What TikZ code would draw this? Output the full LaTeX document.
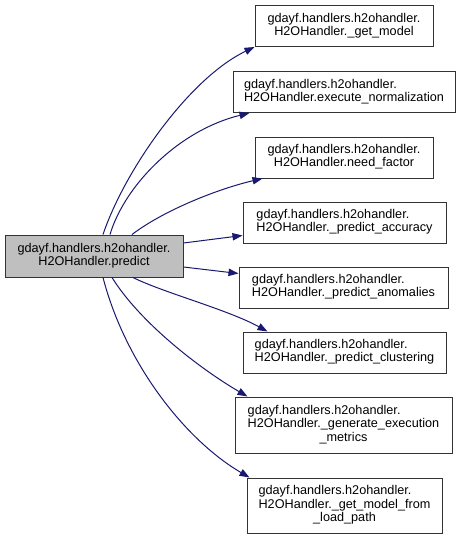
\documentclass[tikz,border=0pt]{standalone}
\usepackage{fontspec}
\setmainfont{Liberation Sans}
\usetikzlibrary{arrows.meta}

\definecolor{edgeblue}{HTML}{191970}
\definecolor{srcgrey}{HTML}{BFBFBF}

% label lines: upper lines flush left, last line centred
\newcommand{\twoline}[2]{\begin{tabular}{@{}l@{}}#1\\\multicolumn{1}{@{}c@{}}{#2}\end{tabular}}
\newcommand{\threeline}[3]{\begin{tabular}{@{}l@{}}#1\\#2\\\multicolumn{1}{@{}c@{}}{#3}\end{tabular}}

\begin{document}
\begin{tikzpicture}[
  x=0.75pt, y=-0.75pt,
  every node/.style={font={\fontsize{9.5}{10}\selectfont}},
  fn/.style={rectangle, draw=black!80, line width=0.75pt,
             fill=white, inner sep=0pt, minimum height=30.75pt},
  root/.style={fn, fill=srcgrey, minimum height=31.5pt},
  call/.style={-{Triangle[length=7.5pt,width=5.5pt]}, draw=edgeblue,
               line width=0.75pt},
]

\useasboundingbox (0,0) rectangle (463,539);

%% ── Column positions ──────────────────────────────────
\def\sx{94}    % caller column x
\def\tx{344}   % callee column x

%% ── Caller ────────────────────────────────────────────
\node[root, minimum width=133.5pt] (predict) at (\sx, 256)
  {\twoline{gdayf.handlers.h2ohandler.}{H2OHandler.predict}};

%% ── Callees (top → bottom) ────────────────────────────
\node[fn, minimum width=133.5pt] (getmodel) at (\tx, 26)
  {\twoline{gdayf.handlers.h2ohandler.}{H2OHandler.\_get\_model}};
\node[fn, minimum width=166.5pt] (normalize) at (\tx, 92)
  {\twoline{gdayf.handlers.h2ohandler.}{H2OHandler.execute\_normalization}};
\node[fn, minimum width=133.5pt] (needfactor) at (\tx, 157.5)
  {\twoline{gdayf.handlers.h2ohandler.}{H2OHandler.need\_factor}};
\node[fn, minimum width=152.25pt] (accuracy) at (\tx+0.5, 222.5)
  {\twoline{gdayf.handlers.h2ohandler.}{H2OHandler.\_predict\_accuracy}};
\node[fn, minimum width=156.75pt] (anomalies) at (\tx-0.5, 287.5)
  {\twoline{gdayf.handlers.h2ohandler.}{H2OHandler.\_predict\_anomalies}};
\node[fn, minimum width=152.25pt] (clustering) at (\tx+0.5, 352.5)
  {\twoline{gdayf.handlers.h2ohandler.}{H2OHandler.\_predict\_clustering}};
\node[fn, minimum width=162.75pt, minimum height=42pt] (metrics) at (\tx-0.5, 425)
  {\threeline{gdayf.handlers.h2ohandler.}{H2OHandler.\_generate\_execution}{\_metrics}};
\node[fn, minimum width=146.25pt, minimum height=41.25pt] (loadpath) at (\tx+0.5, 505.5)
  {\threeline{gdayf.handlers.h2ohandler.}{H2OHandler.\_get\_model\_from}{\_load\_path}};

%% ── Calls ─────────────────────────────────────────────
\draw[call] ([shift={(9,0)}]predict.north)
  .. controls +(22,-65) and +(-65,31) .. (getmodel.south west);
\draw[call] ([shift={(16,0)}]predict.north)
  .. controls +(15,-50) and +(-70,17) .. ([shift={(17,0)}]normalize.south west);
\draw[call] ([shift={(38,0)}]predict.north)
  .. controls +(33,-25) and +(-43,10) .. ([shift={(8,0)}]needfactor.south west);
\draw[call] ([shift={(0,-13)}]predict.east) -- ([shift={(0,13)}]accuracy.west);
\draw[call] ([shift={(0,11)}]predict.east) -- ([shift={(0,-14)}]anomalies.west);
\draw[call] ([shift={(39,0)}]predict.south)
  .. controls +(30,15) and +(-40,-22) .. ([shift={(25,0)}]clustering.north west);
\draw[call] ([shift={(18,0)}]predict.south)
  .. controls +(28,45) and +(-48,-28) .. ([shift={(13,0)}]metrics.north west);
\draw[call] ([shift={(9,0)}]predict.south)
  .. controls +(22,85) and +(-65,-38) .. ([shift={(3,0)}]loadpath.north west);

\end{tikzpicture}
\end{document}
